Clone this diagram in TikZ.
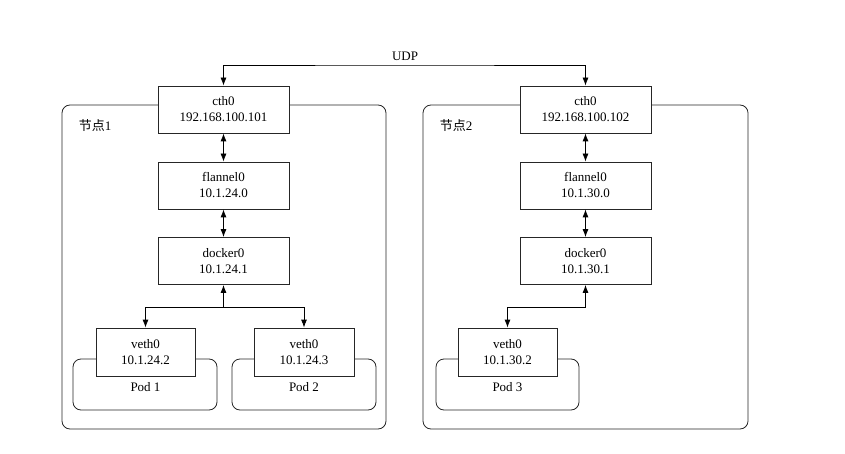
\documentclass[tikz,border=0pt]{standalone}
\usepackage{fontspec}
\setmainfont{Liberation Serif}
\newfontfamily\cjk{Noto Sans CJK SC}
\usetikzlibrary{arrows.meta}
\begin{document}
\begin{tikzpicture}[x=1pt,y=-1pt,
  ifbox/.style={draw=black!85, line width=0.8pt, fill=white, minimum width=131pt, minimum height=47pt, align=center, inner sep=0pt, font=\fontsize{13}{16}\selectfont},
  vbox/.style={ifbox, minimum width=99pt, minimum height=48pt},
  hostbox/.style={draw=black!85, line width=0.8pt, rounded corners=8pt},
  podbox/.style={draw=black!85, line width=0.8pt, rounded corners=8pt},
  lbl/.style={font=\fontsize{13}{16}\selectfont, inner sep=0pt},
  conn/.style={draw=black, line width=0.8pt},
  tip/.tip={Latex[length=8pt,width=6pt]}]
\useasboundingbox (0,0) rectangle (845,454);
% host boxes
\draw[hostbox] (62,105) rectangle (386,429);
\draw[hostbox] (423,105) rectangle (748,429);
\node[lbl] (h1) at (95,126) {\cjk 节点\rmfamily 1};
\node[lbl] (h2) at (456,126) {\cjk 节点\rmfamily 2};
% pod boxes
\draw[podbox] (73,359) rectangle (217,410);
\draw[podbox] (232,359) rectangle (376,410);
\draw[podbox] (436,359) rectangle (579,410);
\node[lbl] (p1) at (145.5,387) {Pod 1};
\node[lbl] (p2) at (304,387) {Pod 2};
\node[lbl] (p3) at (507.5,387) {Pod 3};
% interface boxes
\node[ifbox] (eth1) at (223.5,109.5) {cth0\\192.168.100.101};
\node[ifbox] (eth2) at (585.5,109.5) {cth0\\192.168.100.102};
\node[ifbox] (fl1) at (223.5,185.5) {flannel0\\10.1.24.0};
\node[ifbox] (fl2) at (585.5,185.5) {flannel0\\10.1.30.0};
\node[ifbox] (dk1) at (223.5,261) {docker0\\10.1.24.1};
\node[ifbox] (dk2) at (585.5,261) {docker0\\10.1.30.1};
\node[vbox] (v1) at (145.5,352) {veth0\\10.1.24.2};
\node[vbox, minimum width=100pt] (v2) at (304,352) {veth0\\10.1.24.3};
\node[vbox] (v3) at (507.5,352) {veth0\\10.1.30.2};
% connectors
\coordinate (udp) at (405,65);
\draw[conn, {tip}-{tip}] (eth1.north) |- (udp) -| (eth2.north);
\node[lbl, anchor=south] (udplbl) at (405,61) {UDP};
\draw[conn, {tip}-{tip}] (eth1.south) -- (fl1.north);
\draw[conn, {tip}-{tip}] (fl1.south) -- (dk1.north);
\draw[conn, {tip}-{tip}] (eth2.south) -- (fl2.north);
\draw[conn, {tip}-{tip}] (fl2.south) -- (dk2.north);
\coordinate (b1) at (223.5,307);
\coordinate (b2) at (585.5,307);
\draw[conn, {tip}-{tip}] (v1.north) |- (b1) -- (dk1.south);
\draw[conn, -{tip}] (b1) -| (v2.north);
\draw[conn, {tip}-{tip}] (v3.north) |- (b2) -- (dk2.south);
\end{tikzpicture}
\end{document}
